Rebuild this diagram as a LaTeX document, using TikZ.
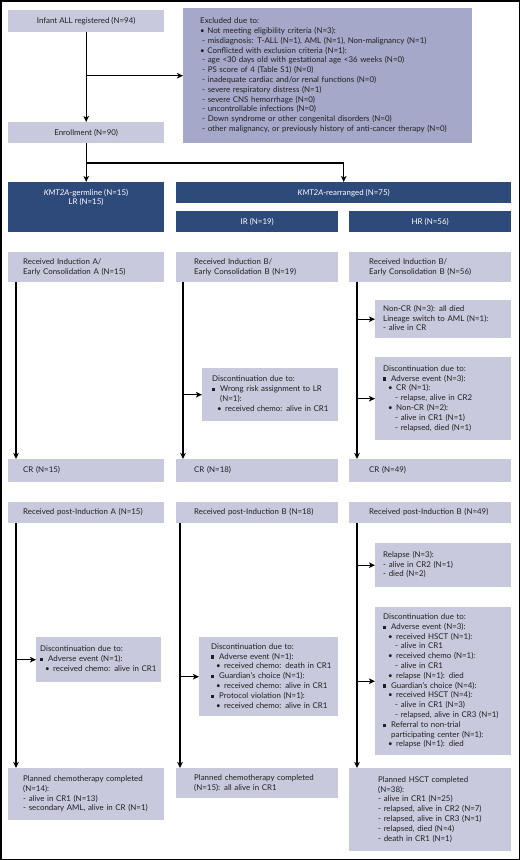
\documentclass[tikz,border=0pt]{standalone}
\usepackage{fontspec}
\setmainfont{Lato}
\usetikzlibrary{arrows.meta,calc}
\definecolor{lightbox}{HTML}{C8C9DC}
\definecolor{exclbox}{HTML}{A5A8C8}
\definecolor{navybox}{HTML}{2E4A7A}
\definecolor{txt}{HTML}{231F20}
\newcommand\sqi{\makebox[8pt][l]{\rule[0.4pt]{3.2pt}{3.2pt}}}
\newcommand\bli{\hspace*{5pt}\makebox[8pt][l]{\textbullet}}
\newcommand\dsh{\hspace*{12pt}- }
\newcommand\tbox[8]{%
  \pgfmathsetmacro\myBW{#5-#3}\pgfmathsetmacro\myBH{#6-#4}%
  \node[#1, minimum width=\myBW pt, minimum height=\myBH pt, text width=\myBW pt, anchor=north west] (#2) at (#3,#4) {\hspace*{#7pt}\begin{tabular}{@{}l@{}}#8\end{tabular}};}
\tikzset{
  every node/.style={font=\fontsize{7.9}{9.8}\selectfont},
  lbox/.style={fill=lightbox, inner sep=0pt, text=txt, align=left},
  xbox/.style={fill=exclbox, inner sep=0pt, text=txt, align=left},
  nbox/.style={fill=navybox, inner sep=0pt, text=white, align=center},
  ntext/.style={text=white, align=center, inner sep=0pt},
  arr/.style={-{Stealth[length=6pt,width=5.5pt,inset=1.5pt]}, line width=1.2pt, draw=black}
}
\begin{document}
\begin{tikzpicture}[x=1pt,y=-1pt]
\useasboundingbox (0,0) rectangle (520,860);
\draw[line width=1.5pt] (0.75,0.75) rectangle (519.25,859.25);

% top
\node[lbox, minimum width=156pt, minimum height=22pt, anchor=north west] (infant) at (8,10) {Infant ALL registered (N=94)};
\node[lbox, minimum width=156pt, minimum height=21pt, anchor=north west] (enroll) at (8,122) {Enrollment (N=90)};
\tbox{xbox}{excl}{183}{8}{472}{143}{17}{Excluded due to:\\
\textbullet\ Not meeting eligibility criteria (N=3):\\
\hspace*{2pt}- misdiagnosis: T-ALL (N=1), AML (N=1), Non-malignancy (N=1)\\
\textbullet\ Conflicted with exclusion criteria (N=1):\\
\hspace*{2pt}- age <30 days old with gestational age <36 weeks (N=0)\\
\hspace*{2pt}- PS score of 4 (Table S1) (N=0)\\
\hspace*{2pt}- inadequate cardiac and/or renal functions (N=0)\\
\hspace*{2pt}- severe respiratory distress (N=1)\\
\hspace*{2pt}- severe CNS hemorrhage (N=0)\\
\hspace*{2pt}- uncontrollable infections (N=0)\\
\hspace*{2pt}- Down syndrome or other congenital disorders (N=0)\\
\hspace*{2pt}- other malignancy, or previously history of anti-cancer therapy (N=0)}

% risk groups
\node[nbox, minimum width=156pt, minimum height=50pt, anchor=north west] (germ) at (8,182) {};
\node[ntext] (germt) at (86,197.5) {\textit{KMT2A}-germline (N=15)\\LR (N=15)};
\node[nbox, minimum width=335pt, minimum height=21pt, anchor=north west] (rearr) at (176,182) {\textit{KMT2A}-rearranged (N=75)};
\node[nbox, minimum width=162pt, minimum height=21pt, anchor=north west] (ir) at (176,211) {IR (N=19)};
\node[nbox, minimum width=162pt, minimum height=21pt, anchor=north west] (hr) at (349,211) {HR (N=56)};

% induction
\tbox{lbox}{lrind}{8}{252}{164}{282}{15}{Received Induction A/\\Early Consolidation A (N=15)}
\tbox{lbox}{irind}{176}{252}{338}{282}{18}{Received Induction B/\\Early Consolidation B (N=19)}
\tbox{lbox}{hrind}{349}{252}{511}{282}{20}{Received Induction B/\\Early Consolidation B (N=56)}

\tbox{lbox}{hrnoncr}{375}{300}{511}{338}{8}{Non-CR (N=3): all died\\Lineage switch to AML (N=1):\\- alive in CR}
\tbox{lbox}{irdisa}{202}{368}{338}{421}{10}{Discontinuation due to:\\
\sqi Wrong risk assignment to LR\\
\hspace*{8pt}(N=1):\\
\bli received chemo: alive in CR1}
\tbox{lbox}{hrdisa}{375}{357}{511}{440}{8}{Discontinuation due to:\\
\sqi Adverse event (N=3):\\
\bli CR (N=1):\\
\dsh relapse, alive in CR2\\
\bli Non-CR (N=2):\\
\dsh alive in CR1 (N=1)\\
\dsh relapsed, died (N=1)}

% CR
\tbox{lbox}{lrcr}{8}{459}{164}{482}{15}{CR (N=15)}
\tbox{lbox}{ircr}{176}{459}{338}{482}{18}{CR (N=18)}
\tbox{lbox}{hrcr}{349}{459}{511}{482}{20}{CR (N=49)}

% post-induction
\tbox{lbox}{lrpost}{8}{502}{164}{523}{15}{Received post-Induction A (N=15)}
\tbox{lbox}{irpost}{176}{502}{338}{523}{18}{Received post-Induction B (N=18)}
\tbox{lbox}{hrpost}{349}{502}{511}{523}{20}{Received post-Induction B (N=49)}

\tbox{lbox}{hrrel}{375}{543}{511}{587}{8}{Relapse (N=3):\\- alive in CR2 (N=1)\\- died (N=2)}
\tbox{lbox}{lrdisb}{36}{637}{161}{682}{4}{Discontinuation due to:\\
\sqi Adverse event (N=1):\\
\bli received chemo: alive in CR1}
\tbox{lbox}{irdisb}{199}{637}{338}{716}{12}{Discontinuation due to:\\
\sqi Adverse event (N=1):\\
\bli received chemo: death in CR1\\
\sqi Guardian’s choice (N=1):\\
\bli received chemo: alive in CR1\\
\sqi Protocol violation (N=1):\\
\bli received chemo: alive in CR1}
\tbox{lbox}{hrdisb}{375}{607}{511}{755}{8}{Discontinuation due to:\\
\sqi Adverse event (N=3):\\
\bli received HSCT (N=1):\\
\dsh alive in CR1\\
\bli received chemo (N=1):\\
\dsh alive in CR1\\
\bli relapse (N=1): died\\
\sqi Guardian’s choice (N=4):\\
\bli received HSCT (N=4):\\
\dsh alive in CR1 (N=3)\\
\dsh relapsed, alive in CR3 (N=1)\\
\sqi Referral to non-trial\\
\hspace*{8pt}participating center (N=1):\\
\bli relapse (N=1): died}

% completed
\tbox{lbox}{lrplan}{8}{768}{164}{820}{15}{Planned chemotherapy completed\\(N=14):\\- alive in CR1 (N=13)\\- secondary AML, alive in CR (N=1)}
\tbox{lbox}{irplan}{176}{768}{338}{798}{18}{Planned chemotherapy completed\\(N=15): all alive in CR1}
\tbox{lbox}{hrplan}{349}{768}{511}{851}{29}{Planned HSCT completed\\(N=38):\\- alive in CR1 (N=25)\\- relapsed, alive in CR2 (N=7)\\- relapsed, alive in CR3 (N=1)\\- relapsed, died (N=4)\\- death in CR1 (N=1)}

% column lines
\coordinate (c1) at (16,0);
\coordinate (c2) at (183,0);
\coordinate (c2b) at (180,0);
\coordinate (c3) at (357,0);
\coordinate (split) at (86,163);

% connectors
\draw[arr] (infant.south) -- (enroll.north);
\draw[arr] (excl.west -| infant.south) -- (excl.west);
\draw[arr] (enroll.south) -- (germ.north);
\draw[arr] (split) -| (rearr.north);

\draw[arr] (lrind.south -| c1) -- (lrcr.north -| c1);
\draw[arr] (irind.south -| c2) -- (ircr.north -| c2);
\draw[arr] (hrind.south -| c3) -- (hrcr.north -| c3);
\draw[arr] (irdisa.west -| c2) -- (irdisa.west);
\draw[arr] (hrnoncr.west -| c3) -- (hrnoncr.west);
\draw[arr] (hrdisa.west -| c3) -- (hrdisa.west);

\draw[arr] (lrpost.south -| c1) -- (lrplan.north -| c1);
\draw[arr] (irpost.south -| c2b) -- (irplan.north -| c2b);
\draw[arr] (hrpost.south -| c3) -- (hrplan.north -| c3);
\draw[arr] (lrdisb.west -| c1) -- (lrdisb.west);
\draw[arr] (irdisb.west -| c2b) -- (irdisb.west);
\draw[arr] (hrrel.west -| c3) -- (hrrel.west);
\draw[arr] (hrdisb.west -| c3) -- (hrdisb.west);
\end{tikzpicture}
\end{document}
